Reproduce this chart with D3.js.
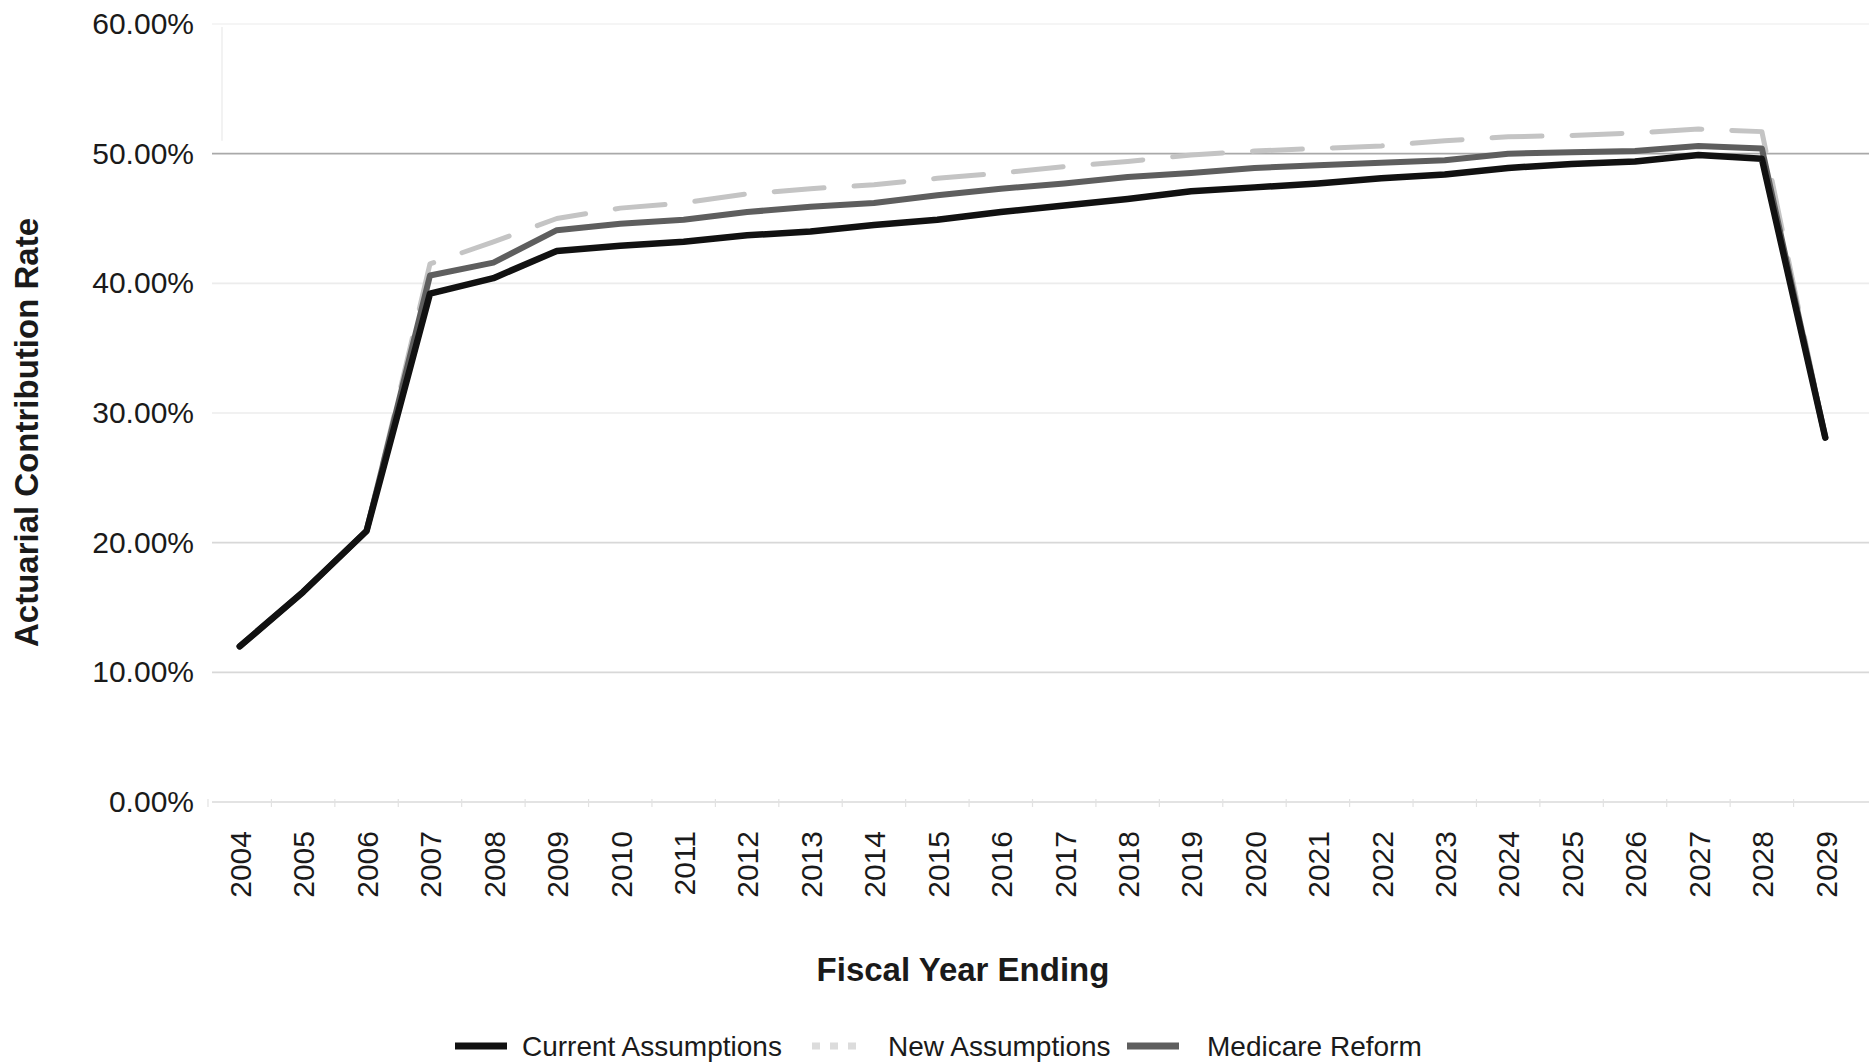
<!DOCTYPE html>
<html>
<head>
<meta charset="utf-8">
<script src="https://cdn.jsdelivr.net/npm/d3@7"></script>
<style>
  html, body { margin: 0; padding: 0; background: #fff; }
  svg { display: block; font-family: "Liberation Sans", Arial, sans-serif; }
</style>
</head>
<body>
<svg id="chart" width="1869" height="1064"></svg>
<script>
// Fiscal years on the x axis
const years = ["2004","2005","2006","2007","2008","2009","2010","2011","2012","2013","2014","2015","2016",
  "2017","2018","2019","2020","2021","2022","2023","2024","2025","2026","2027","2028","2029"];

// Actuarial contribution rate (%) by scenario
const currentAssumptions = [12.0,16.2,20.9,39.2,40.4,42.5,42.9,43.2,43.7,44.0,44.5,44.9,45.5,
  46.0,46.5,47.1,47.4,47.7,48.1,48.4,48.9,49.2,49.4,49.9,49.6,28.1];
const newAssumptions = [12.0,16.2,20.9,41.5,43.2,45.0,45.8,46.2,46.9,47.3,47.6,48.1,48.5,
  49.0,49.4,49.9,50.2,50.4,50.6,51.0,51.3,51.4,51.6,51.9,51.7,28.1];
const medicareReform = [12.0,16.2,20.9,40.6,41.6,44.1,44.6,44.9,45.5,45.9,46.2,46.8,47.3,
  47.7,48.2,48.5,48.9,49.1,49.3,49.5,50.0,50.1,50.2,50.6,50.4,28.1];

const yTicks = [0, 10, 20, 30, 40, 50, 60];
const seriesNames = ["Current Assumptions", "New Assumptions", "Medicare Reform"];

const svg = d3.select("#chart");
const W = 1869;
const margin = { left: 208, right: 12, top: 24, bottom: 262 };
const plotBottom = 1064 - margin.bottom;

const x = d3.scalePoint().domain(years).range([margin.left, W - margin.right]).padding(0.5);
const y = d3.scaleLinear().domain([0, 60]).range([plotBottom, margin.top]);

// Horizontal gridlines
const gridColor = v => v === 50 ? "#a9a9a9" : (v === 60 ? "#f2f2f2" : (v >= 30 ? "#ececec" : "#d8d8d8"));
svg.append("g").selectAll("line")
  .data(yTicks.filter(v => v > 0))
  .join("line")
  .attr("x1", 212).attr("x2", W)
  .attr("y1", d => y(d)).attr("y2", d => y(d))
  .attr("stroke", gridColor).attr("stroke-width", 1.6);

// Faint vertical axis line
svg.append("line")
  .attr("x1", 222).attr("x2", 222)
  .attr("y1", y(60) + 3).attr("y2", y(51))
  .attr("stroke", "#eeeeee").attr("stroke-width", 1.5);

// Y axis labels
const yAxis = d3.axisLeft(y).tickValues(yTicks).tickSize(0).tickPadding(0)
  .tickFormat(d => d.toFixed(2) + "%");
const gy = svg.append("g").attr("transform", "translate(194,0)").call(yAxis);
gy.select(".domain").remove();
gy.selectAll("text").attr("font-size", 30).attr("fill", "#1a1a1a")
  .attr("font-family", "'Liberation Sans', Arial, sans-serif");

// X axis baseline with faint ticks between categories
const step = x.step();
svg.append("line")
  .attr("x1", 212).attr("x2", W)
  .attr("y1", plotBottom).attr("y2", plotBottom)
  .attr("stroke", "#dadada").attr("stroke-width", 1.5);
svg.append("g").selectAll("line")
  .data(years)
  .join("line")
  .attr("x1", d => x(d) - step / 2).attr("x2", d => x(d) - step / 2)
  .attr("y1", plotBottom - 3).attr("y2", plotBottom + 5)
  .attr("stroke", "#e2e2e2").attr("stroke-width", 1.2);

// X axis labels, rotated
const xAxis = d3.axisBottom(x).tickSize(0).tickPadding(0);
const gx = svg.append("g").attr("transform", `translate(0,${plotBottom})`).call(xAxis);
gx.select(".domain").remove();
gx.selectAll("text")
  .attr("font-size", 30).attr("fill", "#1a1a1a")
  .attr("font-family", "'Liberation Sans', Arial, sans-serif")
  .attr("transform", "rotate(-90)")
  .attr("text-anchor", "end")
  .attr("x", -29).attr("y", 0).attr("dy", "0.36em");

// Axis titles
svg.append("text")
  .attr("transform", `translate(38,${(212 + 653) / 2}) rotate(-90)`)
  .attr("text-anchor", "middle")
  .attr("font-size", 33).attr("font-weight", "bold").attr("fill", "#1a1a1a")
  .text("Actuarial Contribution Rate");

svg.append("text")
  .attr("x", 963).attr("y", 981)
  .attr("text-anchor", "middle")
  .attr("font-size", 33).attr("font-weight", "bold").attr("fill", "#1a1a1a")
  .text("Fiscal Year Ending");

// Series lines
const line = d3.line().x((d, i) => x(years[i])).y(d => y(d));
const styles = [
  { data: newAssumptions, color: "#c4c4c4", width: 5, dash: "50 30" },
  { data: medicareReform, color: "#5e5e5e", width: 6, dash: null },
  { data: currentAssumptions, color: "#111111", width: 6.5, dash: null }
];
svg.append("g").selectAll("path")
  .data(styles)
  .join("path")
  .attr("d", d => line(d.data))
  .attr("fill", "none")
  .attr("stroke", d => d.color)
  .attr("stroke-width", d => d.width)
  .attr("stroke-dasharray", d => d.dash)
  .attr("stroke-linejoin", "round")
  .attr("stroke-linecap", "round");

// Legend
const legendItems = [
  { name: seriesNames[0], color: "#111111", dash: null, sx: 455, tx: 522 },
  { name: seriesNames[1], color: "#dcdcdc", dash: "8 10", sx: 812, tx: 888 },
  { name: seriesNames[2], color: "#5e5e5e", dash: null, sx: 1127, tx: 1207 }
];
const lg = svg.append("g").selectAll("g").data(legendItems).join("g");
lg.append("line")
  .attr("x1", d => d.sx).attr("x2", d => d.sx + 52)
  .attr("y1", 1046).attr("y2", 1046)
  .attr("stroke", d => d.color).attr("stroke-width", 7)
  .attr("stroke-dasharray", d => d.dash);
lg.append("text")
  .attr("x", d => d.tx).attr("y", 1046).attr("dy", "0.36em")
  .attr("font-size", 28).attr("fill", "#1a1a1a")
  .text(d => d.name);
</script>
</body>
</html>
